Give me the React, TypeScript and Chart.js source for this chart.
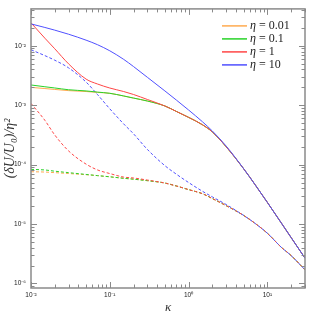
import React, { useEffect, useRef } from 'react';
import { Chart, registerables } from 'chart.js';
Chart.register(...registerables);

// κ sample points
const kappa = [0.01, 0.015, 0.02, 0.03, 0.05, 0.07, 0.1, 0.15, 0.2, 0.3, 0.5, 0.7, 1, 1.5, 2, 3, 5, 7, 10, 15, 20, 30];

// solid curves
const solidEta001 = [0.001995, 0.001905, 0.001841, 0.001758, 0.001698, 0.001641, 0.001585, 0.001429, 0.001318, 0.001175, 0.00097, 0.000785, 0.000624, 0.000468, 0.000355, 0.0001995, 8.51e-5, 4.57e-5, 2.31e-5, 1.045e-5, 5.93e-6, 2.67e-6];
const solidEta01 = [0.002188, 0.002042, 0.00195, 0.00182, 0.001738, 0.00166, 0.001585, 0.001429, 0.001318, 0.001175, 0.00097, 0.000785, 0.000624, 0.000468, 0.000355, 0.0001995, 8.51e-5, 4.57e-5, 2.31e-5, 1.045e-5, 5.93e-6, 2.67e-6];
const solidEta1 = [0.02427, 0.0134, 0.008913, 0.004955, 0.002748, 0.00227, 0.001945, 0.001698, 0.001514, 0.001247, 0.00097, 0.000785, 0.000624, 0.000468, 0.000355, 0.0001995, 8.51e-5, 4.57e-5, 2.31e-5, 1.045e-5, 5.93e-6, 2.67e-6];
const solidEta10 = [0.02333, 0.02032, 0.01832, 0.01563, 0.01242, 0.0104, 0.008222, 0.005902, 0.004467, 0.002944, 0.001738, 0.001219, 0.00083, 0.000526, 0.000368, 0.000205, 8.51e-5, 4.57e-5, 2.31e-5, 1.045e-5, 5.93e-6, 2.67e-6];

// dashed curves
const dashedEta001 = [7.59e-5, 7.5e-5, 7.33e-5, 7.08e-5, 6.76e-5, 6.53e-5, 6.24e-5, 5.89e-5, 5.69e-5, 5.37e-5, 4.9e-5, 4.37e-5, 3.8e-5, 3.24e-5, 2.69e-5, 2.04e-5, 1.396e-5, 1.023e-5, 7.0e-6, 4.07e-6, 2.95e-6, 1.7e-6];
const dashedEta01 = [8.32e-5, 8.13e-5, 7.76e-5, 7.33e-5, 6.84e-5, 6.53e-5, 6.24e-5, 5.89e-5, 5.69e-5, 5.37e-5, 4.9e-5, 4.37e-5, 3.8e-5, 3.24e-5, 2.69e-5, 2.04e-5, 1.396e-5, 1.023e-5, 7.0e-6, 4.07e-6, 2.95e-6, 1.7e-6];
const dashedEta1 = [0.001072, 0.000556, 0.000316, 0.00017, 0.000102, 8.13e-5, 7.08e-5, 6.17e-5, 5.96e-5, 5.5e-5, 4.9e-5, 4.37e-5, 3.8e-5, 3.24e-5, 2.69e-5, 2.04e-5, 1.396e-5, 1.023e-5, 7.0e-6, 4.07e-6, 2.95e-6, 1.7e-6];
const dashedEta10 = [0.00857, 0.006823, 0.005715, 0.004246, 0.002449, 0.001503, 0.000869, 0.000484, 0.00033, 0.00018, 9.61e-5, 6.9e-5, 5.0e-5, 3.56e-5, 2.87e-5, 2.13e-5, 1.396e-5, 1.023e-5, 7.0e-6, 4.07e-6, 2.95e-6, 1.7e-6];

const etaValues = ['0.01', '0.1', '1', '10'];
const seriesColors = ['rgb(255,170,80)', 'rgb(40,210,40)', 'rgb(255,70,70)', 'rgb(80,80,255)'];

const xTickValues = [0.01, 0.1, 1, 10];
const xTickLabels = ['10⁻²', '10⁻¹', '10⁰', '10¹'];
const yTickValues = [1e-6, 1e-5, 1e-4, 1e-3, 1e-2];
const yTickLabels = ['10⁻⁶', '10⁻⁵', '10⁻⁴', '10⁻³', '10⁻²'];

const X_MIN = 0.01, X_MAX = 30, Y_MIN = 8.4e-7, Y_MAX = 0.0417;

const framePlugin = {
  id: 'frameTicks',
  afterDatasetsDraw(chart: any) {
    const { ctx, chartArea: a, scales } = chart;
    ctx.save();
    ctx.strokeStyle = '#8a8a8a';
    ctx.lineWidth = 1;
    const line = (x1: number, y1: number, x2: number, y2: number) => {
      ctx.beginPath(); ctx.moveTo(x1, y1); ctx.lineTo(x2, y2); ctx.stroke();
    };
    for (let e = -2; e <= 1; e++) {
      for (let m = 1; m <= 9; m++) {
        const v = m * Math.pow(10, e);
        if (v < X_MIN - 1e-12 || v > X_MAX + 1e-9) continue;
        const px = Math.round(scales.x.getPixelForValue(v)) + 0.5;
        const L = m === 1 ? 6 : 3.5;
        line(px, a.bottom, px, a.bottom - L);
        line(px, a.top, px, a.top + L);
      }
    }
    for (let e = -7; e <= -2; e++) {
      for (let m = 1; m <= 9; m++) {
        const v = m * Math.pow(10, e);
        if (v < Y_MIN || v > Y_MAX) continue;
        const py = Math.round(scales.y.getPixelForValue(v)) + 0.5;
        const L = m === 1 ? 6 : 3.5;
        line(a.left, py, a.left + L, py);
        line(a.right, py, a.right - L, py);
      }
    }
    ctx.lineWidth = 1.5;
    ctx.strokeRect(a.left, a.top, a.right - a.left, a.bottom - a.top);
    ctx.restore();
  },
  afterDraw(chart: any) {
    const { ctx, chartArea: a } = chart;
    ctx.save();
    const x0 = a.right - 83;
    const y0 = a.top + 17;
    etaValues.forEach((eta, i) => {
      const y = y0 + i * 13;
      ctx.strokeStyle = seriesColors[i];
      ctx.lineWidth = 1.5;
      ctx.beginPath(); ctx.moveTo(x0, y); ctx.lineTo(x0 + 25, y); ctx.stroke();
      ctx.fillStyle = '#222';
      ctx.textBaseline = 'middle';
      ctx.textAlign = 'left';
      ctx.font = 'italic 12px "Liberation Serif"';
      ctx.fillText('η', x0 + 28, y);
      const w = ctx.measureText('η').width;
      ctx.font = '12px "Liberation Serif"';
      ctx.fillText(' = ' + eta, x0 + 28 + w, y);
    });
    ctx.restore();
  },
};

export default function App() {
  const ref = useRef<HTMLCanvasElement>(null);
  useEffect(() => {
    if (!ref.current) return;
    const mk = (vals: number[]) => kappa.map((k, i) => ({ x: k, y: vals[i] }));
    const solids = [solidEta001, solidEta01, solidEta1, solidEta10];
    const dashes = [dashedEta001, dashedEta01, dashedEta1, dashedEta10];
    const datasets: any[] = [];
    solids.forEach((s, i) => {
      datasets.push({
        label: 'η = ' + etaValues[i],
        data: mk(s),
        borderColor: seriesColors[i],
        borderWidth: 1,
        pointRadius: 0,
        cubicInterpolationMode: 'monotone',
        fill: false,
        order: 10 - i,
      });
    });
    dashes.forEach((s, i) => {
      datasets.push({
        label: 'η = ' + etaValues[i] + ' (dashed)',
        data: mk(s),
        borderColor: seriesColors[i],
        borderWidth: 1,
        borderDash: [3, 2],
        pointRadius: 0,
        cubicInterpolationMode: 'monotone',
        fill: false,
        order: 20 - i,
      });
    });
    const chart = new Chart(ref.current, {
      type: 'line',
      data: { datasets },
      options: {
        animation: false,
        responsive: false,
        maintainAspectRatio: false,
        layout: { padding: { top: 8, right: 10, left: 0, bottom: 0 } },
        plugins: { legend: { display: false }, tooltip: { enabled: false } },
        scales: {
          x: {
            type: 'logarithmic',
            min: X_MIN,
            max: X_MAX,
            afterBuildTicks: (s: any) => { s.ticks = xTickValues.map((v) => ({ value: v })); },
            afterFit: (s: any) => { s.height = 27; },
            ticks: {
              autoSkip: false,
              maxRotation: 0,
              padding: 3,
              color: '#222',
              font: { family: 'Liberation Sans', size: 6.5 },
              callback: (v: any) => { const i = xTickValues.indexOf(Number(v)); return i >= 0 ? xTickLabels[i] : ''; },
            },
            grid: { display: false, drawTicks: false },
            border: { display: false },
            title: { display: true, text: 'κ', color: '#333', font: { family: 'Liberation Serif', style: 'italic', size: 13 }, padding: { top: 0, bottom: 0 } },
          },
          y: {
            type: 'logarithmic',
            min: Y_MIN,
            max: Y_MAX,
            afterBuildTicks: (s: any) => { s.ticks = yTickValues.map((v) => ({ value: v })); },
            afterFit: (s: any) => { s.width = 31; },
            ticks: {
              autoSkip: false,
              padding: 5,
              color: '#222',
              font: { family: 'Liberation Sans', size: 6.5 },
              callback: (v: any) => { const i = yTickValues.findIndex((t) => Math.abs(t - Number(v)) / t < 1e-6); return i >= 0 ? yTickLabels[i] : ''; },
            },
            grid: { display: false, drawTicks: false },
            border: { display: false },
            title: { display: true, text: '(δU/U₀)/η²', color: '#333', font: { family: 'Liberation Serif', style: 'italic', size: 14 }, padding: { top: 2, bottom: 0 } },
          },
        },
      },
      plugins: [framePlugin],
    } as any);
    return () => chart.destroy();
  }, []);
  return (
    <div style={{ position: 'fixed', left: 0, top: 0, width: 315, height: 315, background: '#fff' }}>
      <canvas ref={ref} width={315} height={315} style={{ width: 315, height: 315, display: 'block' }} />
    </div>
  );
}
